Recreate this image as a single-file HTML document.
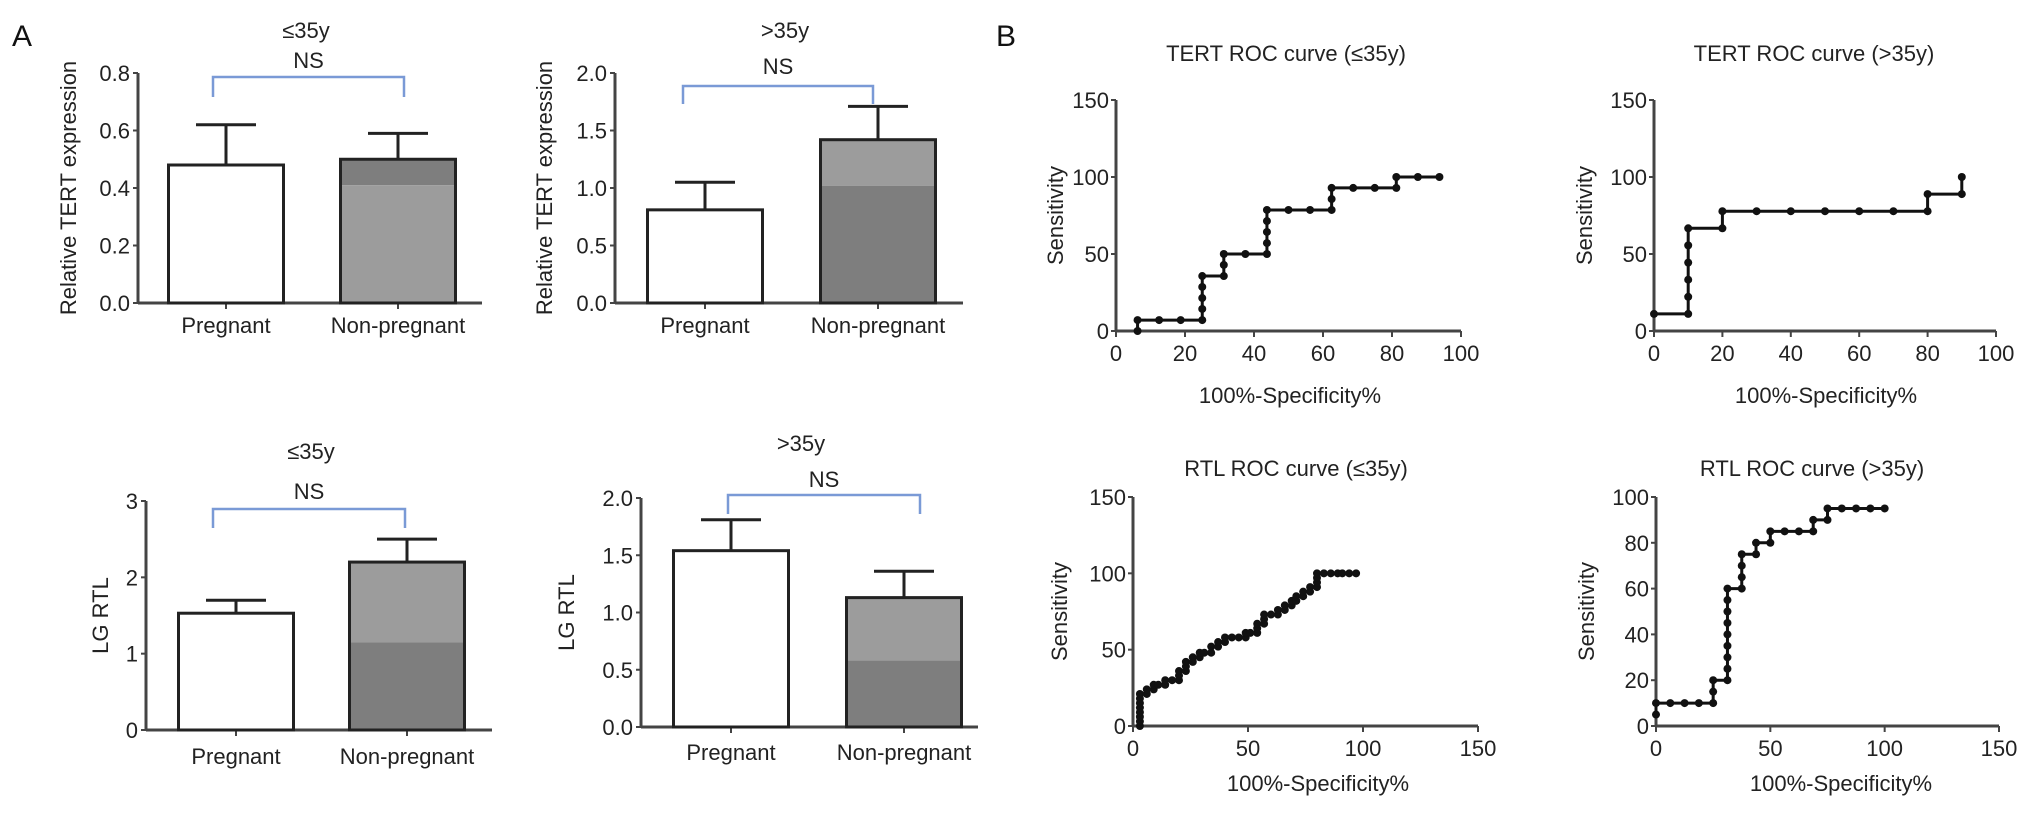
<!DOCTYPE html>
<html><head><meta charset="utf-8"><style>
html,body{margin:0;padding:0;background:#fff;}
svg{display:block;font-family:"Liberation Sans",Arial,sans-serif;}
</style></head><body>
<svg id="fig" width="2032" height="813" viewBox="0 0 2032 813" xmlns="http://www.w3.org/2000/svg">
<text x="12" y="46" font-size="30" fill="#111">A</text>
<text x="996" y="46" font-size="30" fill="#111">B</text>
</svg>
<script>
// ---------- Bar chart data ----------
const barCategories = ["Pregnant", "Non-pregnant"];
const tertYoungMeans = [0.48, 0.50];
const tertYoungErr = [0.62, 0.59];
const tertOldMeans = [0.81, 1.42];
const tertOldErr = [1.05, 1.71];
const rtlYoungMeans = [1.53, 2.20];
const rtlYoungErr = [1.70, 2.50];
const rtlOldMeans = [1.54, 1.13];
const rtlOldErr = [1.81, 1.36];
const tertYoungTicks = ["0.0","0.2","0.4","0.6","0.8"];
const tertOldTicks = ["0.0","0.5","1.0","1.5","2.0"];
const rtlYoungTicks = ["0","1","2","3"];
const rtlOldTicks = ["0.0","0.5","1.0","1.5","2.0"];
const shadeSplits = [0.41, 1.02, 1.15, 0.58];

// ---------- ROC data ----------
const rocTertYoungX = [6.25,6.25,12.5,18.75,25,25,25,25,25,31.25,31.25,31.25,37.5,43.75,43.75,43.75,43.75,43.75,50,56.25,62.5,62.5,62.5,68.75,75,81.25,81.25,87.5,93.75];
const rocTertYoungY = [0,7.1,7.1,7.1,7.1,14.3,21.4,28.6,35.7,35.7,42.9,50,50,50,57.1,64.3,71.4,78.6,78.6,78.6,78.6,85.7,92.9,92.9,92.9,92.9,100,100,100];
const rocTertOldX = [0,10,10,10,10,10,10,20,20,30,40,50,60,70,80,80,90,90];
const rocTertOldY = [11.1,11.1,22.2,33.3,44.4,55.6,66.7,66.7,77.8,77.8,77.8,77.8,77.8,77.8,77.8,88.9,88.9,100];
const rocRtlYoungX = [3,3,3,3,3,3,3,3,6,6,9,9,11,14,14,17,20,20,20,23,23,23,26,26,29,29,31,34,34,37,37,40,40,43,46,49,49,51,54,54,54,57,57,57,60,63,63,66,66,69,69,71,71,74,74,77,77,80,80,80,80,83,86,89,91,94,97];
const rocRtlYoungY = [0,3,6,9,12,15,18,21,21,24,24,27,27,27,30,30,30,33,36,36,39,42,42,45,45,48,48,48,52,52,55,55,58,58,58,58,61,61,61,64,67,67,70,73,73,73,76,76,79,79,82,82,85,85,88,88,91,91,94,97,100,100,100,100,100,100,100];
const rocRtlOldX = [0,0,6.25,12.5,18.75,25,25,25,31.25,31.25,31.25,31.25,31.25,31.25,31.25,31.25,31.25,37.5,37.5,37.5,37.5,43.75,43.75,50,50,56.25,62.5,68.75,68.75,75,75,81.25,87.5,93.75,100];
const rocRtlOldY = [5,10,10,10,10,10,15,20,20,25,30,35,40,45,50,55,60,60,65,70,75,75,80,80,85,85,85,85,90,90,95,95,95,95,95];
const rocTicks150 = [0,50,100,150];
const rocTicks100 = [0,20,40,60,80,100];
const rocXTicks100 = [0,20,40,60,80,100];

const NS = "http://www.w3.org/2000/svg";
const svg = document.getElementById("fig");
function mk(tag, attrs, parent){
  const e = document.createElementNS(NS, tag);
  for (const k in attrs) e.setAttribute(k, attrs[k]);
  (parent||svg).appendChild(e);
  return e;
}
function txt(x,y,s,size,anchor,parent,rot){
  const t = mk("text",{x:x,y:y,"font-size":size,"text-anchor":anchor||"middle",fill:"#222"},parent);
  if (rot) t.setAttribute("transform","rotate(-90 "+x+" "+y+")");
  t.textContent = s;
  return t;
}

function barPanel(cfg){
  const g = mk("g",{});
  
  
  const x0 = cfg.ax, x1 = cfg.axEnd, yb = cfg.y0, yt = cfg.yTop, vmax = cfg.vmax;
  const Y = v => yb - (v / vmax) * (yb - yt);
  // axes
  const ya = mk("line",{x1:x0,y1:yt,x2:x0,y2:yb,stroke:"#444","stroke-width":3},g);
  
  
  const xa = mk("line",{x1:x0,y1:yb,x2:x1,y2:yb,stroke:"#444","stroke-width":3},g);
  
  
  cfg.ticks.forEach((t,i)=>{
    const v = parseFloat(t); const y = Y(v);
    mk("line",{x1:x0-5,y1:y,x2:x0,y2:y,stroke:"#444","stroke-width":2},g);
    const tl = txt(x0-8,y+8,t,22,"end",g);
    
    
  });
  const bw = 115;
  const centers = cfg.centers;
  cfg.means.forEach((m,i)=>{
    const cx = centers[i];
    mk("line",{x1:cx,y1:yb,x2:cx,y2:yb+6,stroke:"#444","stroke-width":2},g);
    // error bar
    const eb = mk("line",{x1:cx,y1:Y(cfg.errs[i]),x2:cx,y2:Y(m),stroke:"#222","stroke-width":3},g);
    
    
    const ec = mk("line",{x1:cx-30,y1:Y(cfg.errs[i]),x2:cx+30,y2:Y(cfg.errs[i]),stroke:"#222","stroke-width":3},g);
    
    
    if (i===0){
      const r = mk("rect",{x:cx-bw/2,y:Y(m),width:bw,height:yb-Y(m),fill:"#fff",stroke:"#222","stroke-width":3},g);
      
      
    } else {
      const sp = cfg.split;
      const top = mk("rect",{x:cx-bw/2,y:Y(m),width:bw,height:Y(sp)-Y(m),fill:cfg.topFill},g);
      
      
      const bot = mk("rect",{x:cx-bw/2,y:Y(sp),width:bw,height:yb-Y(sp),fill:cfg.botFill},g);
      
      
      const r = mk("rect",{x:cx-bw/2,y:Y(m),width:bw,height:yb-Y(m),fill:"none",stroke:"#222","stroke-width":3},g);
      
      
    }
    const xl = txt(cx, cfg.labelY, barCategories[i], 22, "middle", g);
    
    
  });
  const bk = mk("path",{d:"M"+cfg.br[0]+" "+cfg.br[3]+" V"+cfg.br[2]+" H"+cfg.br[1]+" V"+cfg.br[3],fill:"none",stroke:"#7a9ad6","stroke-width":2.5},g);
  
  
  const ns = txt((cfg.br[0]+cfg.br[1])/2, cfg.nsY, "NS", 22, "middle", g);
  
  
  const tt = txt(cfg.titleX, cfg.titleY, cfg.title, 22, "middle", g);
  
  
  const yl = txt(cfg.ylX, (yt+yb)/2, cfg.ylabel, 22, "middle", g, true);
  
  
}

barPanel({name:"tert-young-chart",ax:138,axEnd:482,y0:303,yTop:73,vmax:0.8,ticks:tertYoungTicks,centers:[226,398],
  means:tertYoungMeans,errs:tertYoungErr,split:shadeSplits[0],topFill:"#7e7e7e",botFill:"#9c9c9c",labelY:333,
  br:[213,404,77,97],nsY:68,title:"≤35y",titleX:306,titleY:38,ylabel:"Relative TERT expression",ylX:76});
barPanel({name:"tert-old-chart",ax:615,axEnd:963,y0:303,yTop:73,vmax:2.0,ticks:tertOldTicks,centers:[705,878],
  means:tertOldMeans,errs:tertOldErr,split:shadeSplits[1],topFill:"#9c9c9c",botFill:"#7e7e7e",labelY:333,
  br:[683,873,86,104],nsY:74,title:">35y",titleX:785,titleY:38,ylabel:"Relative TERT expression",ylX:552});
barPanel({name:"rtl-young-chart",ax:146,axEnd:492,y0:730,yTop:501,vmax:3,ticks:rtlYoungTicks,centers:[236,407],
  means:rtlYoungMeans,errs:rtlYoungErr,split:shadeSplits[2],topFill:"#9c9c9c",botFill:"#7e7e7e",labelY:764,
  br:[213,405,509,528],nsY:499,title:"≤35y",titleX:311,titleY:459,ylabel:"LG RTL",ylX:108});
barPanel({name:"rtl-old-chart",ax:641,axEnd:978,y0:727,yTop:498,vmax:2.0,ticks:rtlOldTicks,centers:[731,904],
  means:rtlOldMeans,errs:rtlOldErr,split:shadeSplits[3],topFill:"#9c9c9c",botFill:"#7e7e7e",labelY:760,
  br:[728,920,495,514],nsY:487,title:">35y",titleX:801,titleY:451,ylabel:"LG RTL",ylX:574});

function rocPanel(cfg){
  const g = mk("g",{});
  
  
  const X = v => cfg.ax + (v - cfg.xmin)/(cfg.xmax - cfg.xmin) * (cfg.axEnd - cfg.ax);
  const Y = v => cfg.y0 - v/cfg.ymax * (cfg.y0 - cfg.yTop);
  const ya = mk("line",{x1:cfg.ax,y1:cfg.yTop,x2:cfg.ax,y2:cfg.y0,stroke:"#444","stroke-width":3},g);
  
  
  const xa = mk("line",{x1:cfg.ax,y1:cfg.y0,x2:cfg.axEnd,y2:cfg.y0,stroke:"#444","stroke-width":3},g);
  
  
  cfg.yticks.forEach(v=>{
    mk("line",{x1:cfg.ax-5,y1:Y(v),x2:cfg.ax,y2:Y(v),stroke:"#444","stroke-width":2},g);
    const t = txt(cfg.ax-7,Y(v)+8,String(v),22,"end",g);
    
    
  });
  cfg.xticks.forEach(v=>{
    mk("line",{x1:X(v),y1:cfg.y0,x2:X(v),y2:cfg.y0+6,stroke:"#444","stroke-width":2},g);
    const t = txt(X(v),cfg.y0+30,String(v),22,"middle",g);
    
    
  });
  let d = "";
  cfg.xs.forEach((x,i)=>{ d += (i?"L":"M")+X(x)+" "+Y(cfg.ys[i])+" "; });
  const ln = mk("path",{d:d,fill:"none",stroke:"#111","stroke-width":3},g);
  
  
  cfg.xs.forEach((x,i)=>{
    const c = mk("circle",{cx:X(x),cy:Y(cfg.ys[i]),r:4,fill:"#111"},g);
    
    
  });
  const tt = txt(cfg.titleX,cfg.titleY,cfg.title,22,"middle",g);
  
  
  const xt = txt(cfg.xtX,cfg.xtY,"100%-Specificity%",22,"middle",g);
  
  
  const yl = txt(cfg.ylX,(cfg.yTop+cfg.y0)/2,"Sensitivity",22,"middle",g,true);
  
  
}

rocPanel({name:"tert-roc-young",ax:1116,axEnd:1461,xmin:0,xmax:100,y0:331,yTop:100,ymax:150,yticks:rocTicks150,xticks:rocXTicks100,
  xs:rocTertYoungX,ys:rocTertYoungY,title:"TERT ROC curve (≤35y)",titleX:1286,titleY:61,xtX:1290,xtY:403,ylX:1063});
rocPanel({name:"tert-roc-old",ax:1654,axEnd:1996,xmin:0,xmax:100,y0:331,yTop:100,ymax:150,yticks:rocTicks150,xticks:rocXTicks100,
  xs:rocTertOldX,ys:rocTertOldY,title:"TERT ROC curve (>35y)",titleX:1814,titleY:61,xtX:1826,xtY:403,ylX:1592});
rocPanel({name:"rtl-roc-young",ax:1133,axEnd:1478,xmin:0,xmax:150,y0:726,yTop:497,ymax:150,yticks:rocTicks150,xticks:[0,50,100,150],
  xs:rocRtlYoungX,ys:rocRtlYoungY,title:"RTL ROC curve (≤35y)",titleX:1296,titleY:476,xtX:1318,xtY:791,ylX:1067});
rocPanel({name:"rtl-roc-old",ax:1656,axEnd:1999,xmin:0,xmax:150,y0:726,yTop:497,ymax:100,yticks:rocTicks100,xticks:[0,50,100,150],
  xs:rocRtlOldX,ys:rocRtlOldY,title:"RTL ROC curve (>35y)",titleX:1812,titleY:476,xtX:1841,xtY:791,ylX:1594});
</script>
</body></html>
